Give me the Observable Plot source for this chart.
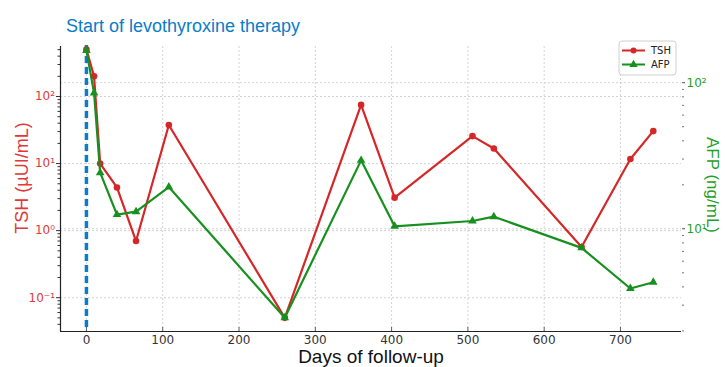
<!DOCTYPE html>
<html><head><meta charset="utf-8">
<script src="https://cdn.jsdelivr.net/npm/d3@7"></script>
<script src="https://cdn.jsdelivr.net/npm/@observablehq/plot@0.6"></script>
<style>body{margin:0;background:#fff}</style>
</head><body><div id="chart"></div>
<script>
const days = [0, 10, 18, 40, 65, 108, 260, 360, 404, 506, 534, 649, 713, 743];
const tsh = [500, 200, 10, 4.4, 0.70, 37.6, 0.050, 75, 3.1, 25.7, 16.8, 0.57, 11.7, 30.5];
const afp = [166, 85, 24.2, 12.5, 13.1, 19.3, 2.46, 29.4, 10.4, 11.3, 12.1, 7.4, 3.9, 4.3];
const xTicks = [0, 100, 200, 300, 400, 500, 600, 700];
const tshTicks = [0.1, 1, 10, 100];
const afpTicks = [10, 100];
const tshDomain = [0.0313, 557];
const afpDomain = [1.98, 177];

const RED = "#d62728", REDT = "#e0393c", GREEN = "#17901f", GREENT = "#1fa02a", BLUE = "#0a7cc8";
const L = tshDomain.map(Math.log10), R = afpDomain.map(Math.log10);
const toLeft = a => 10 ** (L[0] + (Math.log10(a) - R[0]) * (L[1] - L[0]) / (R[1] - R[0]));
const fromLeft = y => 10 ** (R[0] + (Math.log10(y) - L[0]) * (R[1] - R[0]) / (L[1] - L[0]));
const sup = {"-1": "⁻¹", "0": "⁰", "1": "¹", "2": "²"};
const fmt = v => "10" + sup[Math.round(Math.log10(v))];

const minorLeft = [];
for (let e = -2; e <= 2; e++) for (let m = 2; m <= 9; m++) { const v = m * 10 ** e; if (v > tshDomain[0] && v < tshDomain[1]) minorLeft.push(v); }
const minorRight = [];
for (let e = 0; e <= 2; e++) for (let m = 2; m <= 9; m++) { const v = m * 10 ** e; if (v > afpDomain[0] && v < afpDomain[1]) minorRight.push(toLeft(v)); }

const tshData = days.map((d, i) => ({d, v: tsh[i]}));
const afpData = days.map((d, i) => ({d, v: toLeft(afp[i])}));
const grid = {stroke: "#c8c8c8", strokeOpacity: 1, strokeDasharray: "2,2", strokeWidth: 0.8};
const up = k => 10 ** (L[0] + k * (L[1] - L[0]) / 285);

const svg = Plot.plot({
  width: 725, height: 367,
  marginLeft: 60, marginRight: 44, marginTop: 46, marginBottom: 36,
  style: {fontFamily: "DejaVu Sans", fontSize: "12px", overflow: "visible", background: "#fff"},
  x: {domain: [-34, 780]},
  y: {type: "log", domain: tshDomain},
  marks: [
    Plot.gridX(xTicks, grid),
    Plot.gridY(tshTicks, grid),
    Plot.gridY(afpTicks.map(toLeft), grid),
    Plot.axisX(xTicks, {tickSize: 0, tickPadding: 4, tickFormat: d => String(d), fill: "#333", label: null}),
    Plot.ruleX(xTicks, {y1: tshDomain[0], y2: up(4), stroke: "#333", strokeWidth: 0.8}),
    Plot.axisY(tshTicks, {anchor: "left", tickSize: 4, tickPadding: 1.5, stroke: "#333", fill: REDT, tickFormat: fmt, label: null}),
    Plot.axisY(minorLeft, {anchor: "left", tickSize: 2.5, tickFormat: () => "", stroke: "#333", label: null}),
    Plot.axisY(afpTicks.map(toLeft), {anchor: "right", tickSize: 3, tickPadding: 2, stroke: "#555", fill: GREENT, tickFormat: v => fmt(fromLeft(v)), label: null}),
    Plot.axisY(minorRight, {anchor: "right", tickSize: 2, tickFormat: () => "", stroke: "#777", label: null}),
    Plot.ruleX([-34], {stroke: "#222", strokeWidth: 1.2}),
    Plot.ruleY([tshDomain[0]], {stroke: "#222", strokeWidth: 1.2}),
    Plot.ruleX([0], {y1: 0.036, y2: 640, stroke: BLUE, strokeWidth: 3.5, strokeDasharray: "7,4"}),
    Plot.line(tshData, {x: "d", y: "v", stroke: RED, strokeWidth: 2.2}),
    Plot.dot(tshData, {x: "d", y: "v", r: 3.3, fill: RED}),
    Plot.line(afpData, {x: "d", y: "v", stroke: GREEN, strokeWidth: 2.2}),
    Plot.dot(afpData, {x: "d", y: "v", r: 3.2, symbol: "triangle", fill: GREEN})
  ]
});

const s = d3.select(svg);
s.append("text").attr("x", 66).attr("y", 31.5).attr("fill", BLUE).attr("text-anchor", "start")
  .style("font", "18px 'Liberation Sans', Arial, sans-serif").text("Start of levothyroxine therapy");
s.append("text").attr("transform", "translate(28,178) rotate(-90)").attr("text-anchor", "middle").attr("fill", REDT)
  .style("font", "18px 'Liberation Sans', Arial, sans-serif").text("TSH (µUI/mL)");
s.append("text").attr("transform", "translate(707,185) rotate(90)").attr("text-anchor", "middle").attr("fill", GREENT)
  .style("font", "17px 'Liberation Sans', Arial, sans-serif").text("AFP (ng/mL)");
s.append("text").attr("x", 371).attr("y", 363).attr("text-anchor", "middle").attr("fill", "#111")
  .style("font", "19px 'Liberation Sans', Arial, sans-serif").text("Days of follow-up");

const lg = s.append("g");
lg.append("rect").attr("x", 619).attr("y", 41).attr("width", 57).attr("height", 34).attr("rx", 3)
  .attr("fill", "#fff").attr("fill-opacity", 0.85).attr("stroke", "#d0d0d0");
[["TSH", RED, 50.5, "circle"], ["AFP", GREEN, 64.5, "triangle"]].forEach(([t, c, y, sym]) => {
  lg.append("line").attr("x1", 622).attr("x2", 645).attr("y1", y).attr("y2", y).attr("stroke", c).attr("stroke-width", 2);
  if (sym === "circle") lg.append("circle").attr("cx", 633.5).attr("cy", y).attr("r", 3).attr("fill", c);
  else lg.append("path").attr("d", d3.symbol(d3.symbolTriangle, 30)()).attr("transform", `translate(633.5,${y})`).attr("fill", c);
  lg.append("text").attr("x", 651).attr("y", y).attr("dy", "0.35em").attr("fill", "#222").attr("text-anchor", "start")
    .style("font", "10px 'DejaVu Sans', sans-serif").text(t);
});

document.getElementById("chart").appendChild(svg);
</script>
</body></html>
